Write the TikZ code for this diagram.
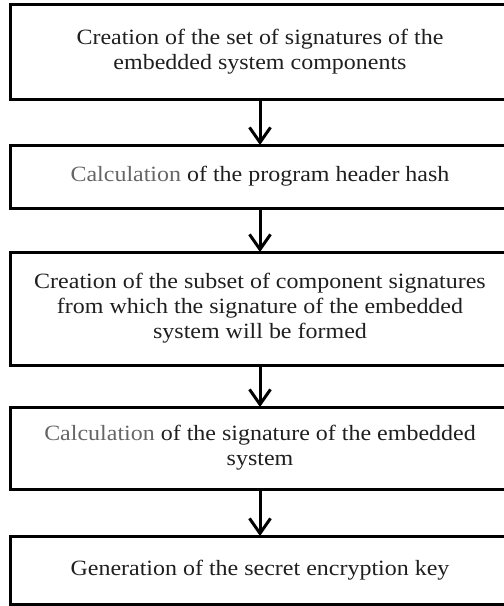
\documentclass[tikz,border=0pt]{standalone}
\usepackage{fontspec}
\setmainfont{Liberation Serif}[FakeStretch=1.1]
\usepackage{xcolor}
\usetikzlibrary{arrows.meta, positioning}

\colorlet{steptext}{black!88}
\colorlet{softgray}{black!60}

\begin{document}
\begin{tikzpicture}[
    x=1pt, y=1pt,
    stage/.style={draw, rectangle, line width=3pt, minimum width=500pt, inner sep=0pt, outer sep=0pt,
                  align=center, text=steptext, font=\fontsize{21.8}{25}\selectfont},
    flow/.style={-{Straight Barb[length=15pt, width=21pt]}, line width=3pt}
]
\useasboundingbox (0,0) rectangle (504,-606);

\node[stage, minimum height=95pt] (sigset) at (260,-51.5)
  {Creation of the set of signatures of the\\embedded system components};
\node[stage, minimum height=63pt, below=46pt of sigset] (hdrhash)
  {\textcolor{softgray}{Calculation} of the program header hash};
\node[stage, minimum height=113pt, below=44pt of hdrhash] (subset)
  {Creation of the subset of component signatures\\from which the signature of the embedded\\system will be formed};
\node[stage, minimum height=82pt, below=42pt of subset] (syssig)
  {\textcolor{softgray}{Calculation} of the signature of the embedded\\system};
\node[stage, minimum height=68pt, below=47pt of syssig] (enckey)
  {Generation of the secret encryption key};

% arrows between the stages
\foreach \a/\b in {sigset/hdrhash, hdrhash/subset, subset/syssig, syssig/enckey}
  \draw[flow] (\a) -- (\b);

\end{tikzpicture}
\end{document}
